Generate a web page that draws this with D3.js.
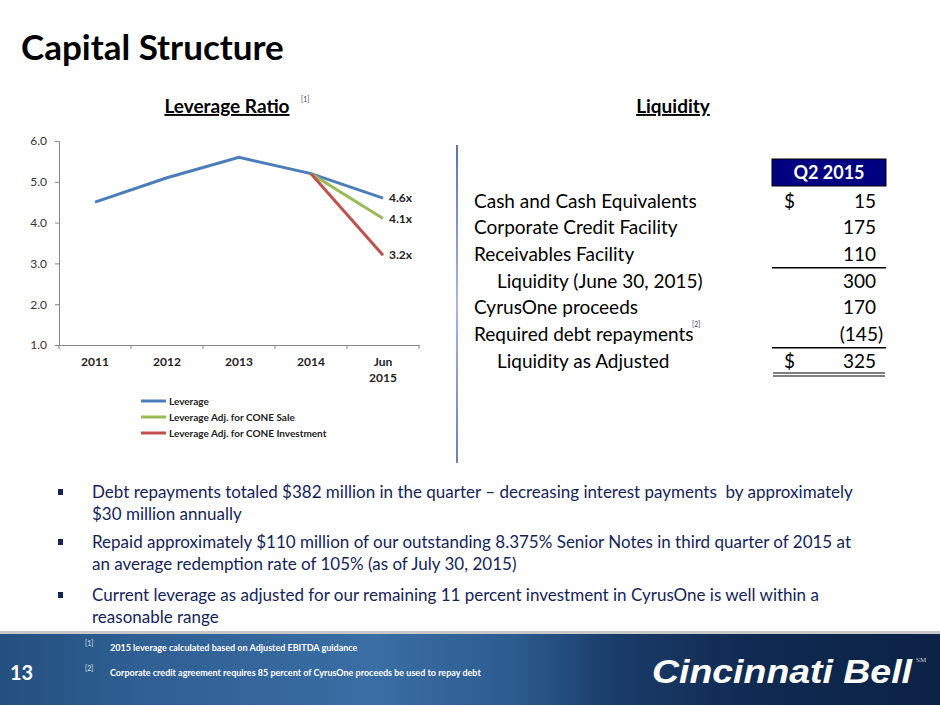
<!DOCTYPE html>
<html>
<head>
<meta charset="utf-8">
<script src="https://cdn.jsdelivr.net/npm/d3@7"></script>
<style>
  body { margin: 0; background: #fff; }
  svg { display: block; }
</style>
</head>
<body>
<svg id="slide" width="940" height="705"></svg>
<script>
// ---- data ----
const categories = ["2011", "2012", "2013", "2014", "Jun 2015"];
const leverage = [4.5, 5.1, 5.6, 5.2, 4.6];
const coneSale = [null, null, null, 5.2, 4.1];
const coneInvestment = [null, null, null, 5.2, 3.2];
const yTicks = [1, 2, 3, 4, 5, 6];
const seriesNames = ["Leverage", "Leverage Adj. for CONE Sale", "Leverage Adj. for CONE Investment"];
const seriesColors = ["#4a7ebb", "#9bbb59", "#c0504d"];

const rowLabels = ["Cash and Cash Equivalents", "Corporate Credit Facility", "Receivables Facility",
  "Liquidity (June 30, 2015)", "CyrusOne proceeds", "Required debt repayments", "Liquidity as Adjusted"];
const rowValues = [15, 175, 110, 300, 170, -145, 325];
const rowDollar = [true, false, false, false, false, false, true];
const rowIndent = [false, false, false, true, false, false, true];

const bullets = [
  ["Debt repayments totaled $382 million in the quarter \u2013 decreasing interest payments  by approximately",
   "$30 million annually"],
  ["Repaid approximately $110 million of our outstanding 8.375% Senior Notes in third quarter of 2015 at",
   "an average redemption rate of 105% (as of July 30, 2015)"],
  ["Current leverage as adjusted for our remaining 11 percent investment in CyrusOne is well within a",
   "reasonable range"]
];
const footnotes = ["2015 leverage calculated based on Adjusted EBITDA guidance",
  "Corporate credit agreement requires 85 percent of CyrusOne proceeds be used to repay debt"];

const svg = d3.select("#slide");
const FONT = "Lato, 'Open Sans', sans-serif";

/* ---------------- title ---------------- */
svg.append("text")
  .attr("x", 21).attr("y", 60)
  .attr("font-family", FONT).attr("font-weight", "bold").attr("font-size", 35)
  .attr("fill", "#000")
  .text("Capital Structure");

/* ---------------- leverage chart ---------------- */
const chart = svg.append("g");

const x = d3.scaleBand().domain(categories).range([59, 419]);
const y = d3.scaleLinear().domain([1, 6]).range([345, 141]);
const cx = c => x(c) + x.bandwidth() / 2;

chart.append("text")
  .attr("x", 227).attr("y", 113).attr("text-anchor", "middle")
  .attr("font-family", FONT).attr("font-weight", "bold").attr("font-size", 19)
  .style("text-decoration", "underline")
  .text("Leverage Ratio");
chart.append("text")
  .attr("x", 301).attr("y", 102)
  .attr("font-family", FONT).attr("font-size", 7).attr("fill", "#444")
  .text("[1]");

const yAxis = chart.append("g")
  .attr("transform", "translate(59,0)")
  .call(d3.axisLeft(y).tickValues(yTicks).tickFormat(d3.format(".1f")).tickSize(4).tickPadding(8));
yAxis.selectAll("path, line").attr("stroke", "#868686");
yAxis.selectAll("text").attr("font-family", FONT).attr("font-size", 12).attr("fill", "#333");

const xAxis = chart.append("g")
  .attr("transform", "translate(0,345)")
  .call(d3.axisBottom(x).tickSize(0).tickPadding(10));
xAxis.select("path").attr("stroke", "#868686");
xAxis.selectAll("text").remove();
// tick marks on band boundaries
xAxis.selectAll("line.edge")
  .data(categories.map(c => x(c)).concat([x.range()[1]]))
  .enter().append("line")
  .attr("class", "edge")
  .attr("x1", d => d).attr("x2", d => d)
  .attr("y1", 0).attr("y2", 4)
  .attr("stroke", "#868686");
xAxis.selectAll("text.cat")
  .data(categories)
  .enter().append("text")
  .attr("class", "cat")
  .attr("x", d => cx(d))
  .attr("y", 21)
  .attr("text-anchor", "middle")
  .attr("font-family", FONT).attr("font-weight", "bold").attr("font-size", 12)
  .attr("fill", "#222")
  .each(function (d) {
    const parts = d.split(" ");
    d3.select(this).selectAll("tspan")
      .data(parts).enter().append("tspan")
      .attr("x", cx(d))
      .attr("dy", (p, i) => i === 0 ? 0 : 16)
      .text(p => p);
  });

const line = d3.line()
  .defined(d => d.v !== null)
  .x(d => cx(d.c))
  .y(d => y(d.v));

[leverage, coneSale, coneInvestment].forEach((series, i) => {
  chart.append("path")
    .datum(series.map((v, j) => ({ c: categories[j], v: v })))
    .attr("fill", "none")
    .attr("stroke", seriesColors[i])
    .attr("stroke-width", 3)
    .attr("d", line);
});

// end labels
const lastCat = categories[categories.length - 1];
[leverage, coneSale, coneInvestment].forEach(series => {
  const v = series[series.length - 1];
  chart.append("text")
    .attr("x", cx(lastCat) + 6)
    .attr("y", y(v))
    .attr("dy", "0.35em")
    .attr("font-family", FONT).attr("font-weight", "bold").attr("font-size", 12)
    .attr("fill", "#222")
    .text(d3.format(".1f")(v) + "x");
});

// legend
const legend = chart.append("g").attr("transform", "translate(141,401)");
seriesNames.forEach((name, i) => {
  const g = legend.append("g").attr("transform", `translate(0,${i * 16})`);
  g.append("line").attr("x1", 0).attr("x2", 25)
    .attr("stroke", seriesColors[i]).attr("stroke-width", 3);
  g.append("text").attr("x", 28).attr("dy", "0.35em")
    .attr("font-family", FONT).attr("font-weight", "bold").attr("font-size", 10)
    .attr("fill", "#222")
    .text(name);
});

/* ---------------- divider ---------------- */
const defs = svg.append("defs");
const divGrad = defs.append("linearGradient").attr("id", "divGrad")
  .attr("x1", 0).attr("y1", 0).attr("x2", 0).attr("y2", 1);
divGrad.append("stop").attr("offset", "0%").attr("stop-color", "#5d73b0");
divGrad.append("stop").attr("offset", "50%").attr("stop-color", "#a9b7da");
divGrad.append("stop").attr("offset", "100%").attr("stop-color", "#6b7fb8");
svg.append("rect")
  .attr("x", 456).attr("y", 145).attr("width", 2).attr("height", 318)
  .attr("fill", "url(#divGrad)");

/* ---------------- liquidity table ---------------- */
const table = svg.append("g");
table.append("text")
  .attr("x", 673).attr("y", 113).attr("text-anchor", "middle")
  .attr("font-family", FONT).attr("font-weight", "bold").attr("font-size", 19)
  .style("text-decoration", "underline")
  .text("Liquidity");

table.append("rect")
  .attr("x", 772).attr("y", 159).attr("width", 114).attr("height", 27)
  .attr("fill", "#000080").attr("stroke", "#000").attr("stroke-width", 1);
table.append("text")
  .attr("x", 829).attr("y", 179).attr("text-anchor", "middle")
  .attr("font-family", FONT).attr("font-weight", "bold").attr("font-size", 18)
  .attr("fill", "#fff")
  .text("Q2 2015");

const rowY = d3.scalePoint().domain(d3.range(rowLabels.length)).range([201, 361]);

rowLabels.forEach((label, i) => {
  const yy = rowY(i);
  table.append("text")
    .attr("x", rowIndent[i] ? 497 : 474)
    .attr("y", yy).attr("dy", "0.35em")
    .attr("font-family", FONT).attr("font-size", 19).attr("fill", "#000")
    .text(label);
  if (label === "Required debt repayments") {
    table.append("text")
      .attr("x", 692).attr("y", yy - 7)
      .attr("font-family", FONT).attr("font-size", 7).attr("fill", "#444")
      .text("[2]");
  }
  const v = rowValues[i];
  table.append("text")
    .attr("x", v < 0 ? 883 : 876)
    .attr("y", yy).attr("dy", "0.35em")
    .attr("text-anchor", "end")
    .attr("font-family", FONT).attr("font-size", 19).attr("fill", "#000")
    .text(v < 0 ? `(${-v})` : String(v));
  if (rowDollar[i]) {
    table.append("text")
      .attr("x", 784).attr("y", yy).attr("dy", "0.35em")
      .attr("font-family", FONT).attr("font-size", 19).attr("fill", "#000")
      .text("$");
  }
});

// rules under the subtotal rows
const ruleAt = i => (rowY(i) + rowY(i + 1)) / 2;
table.append("line").attr("x1", 772).attr("x2", 886)
  .attr("y1", ruleAt(2)).attr("y2", ruleAt(2)).attr("stroke", "#000").attr("stroke-width", 1.5);
table.append("line").attr("x1", 772).attr("x2", 886)
  .attr("y1", ruleAt(5)).attr("y2", ruleAt(5)).attr("stroke", "#000").attr("stroke-width", 1.5);
[12, 15].forEach(off => {
  table.append("line").attr("x1", 773).attr("x2", 885)
    .attr("y1", rowY(6) + off).attr("y2", rowY(6) + off)
    .attr("stroke", "#000").attr("stroke-width", 1.2);
});

/* ---------------- bullets ---------------- */
const bulletTop = [492, 542, 595];
bullets.forEach((lines, i) => {
  svg.append("rect")
    .attr("x", 58).attr("y", bulletTop[i] - 3).attr("width", 5).attr("height", 6)
    .attr("fill", "#14245a");
  lines.forEach((ln, j) => {
    svg.append("text")
      .attr("x", 92).attr("y", bulletTop[i] + j * 22).attr("dy", "0.35em")
      .attr("font-family", FONT).attr("font-size", 17).attr("fill", "#14245a")
      .style("white-space", "pre")
      .text(ln);
  });
});

/* ---------------- footer ---------------- */
const footGrad = defs.append("linearGradient").attr("id", "footGrad")
  .attr("x1", 0).attr("y1", 0).attr("x2", 1).attr("y2", 0);
[["0%", "#24507f"], ["15%", "#2f5f93"], ["40%", "#3a6ea4"], ["55%", "#2c5b8e"],
 ["65%", "#1b3d6a"], ["80%", "#102a52"], ["100%", "#0c2246"]].forEach(s => {
  footGrad.append("stop").attr("offset", s[0]).attr("stop-color", s[1]);
});
svg.append("rect").attr("x", 0).attr("y", 631).attr("width", 940).attr("height", 3).attr("fill", "#c8c8c8");
svg.append("rect").attr("x", 0).attr("y", 634).attr("width", 940).attr("height", 71).attr("fill", "url(#footGrad)");

svg.append("text")
  .attr("x", 10).attr("y", 680)
  .attr("font-family", FONT).attr("font-weight", "bold").attr("font-size", 20)
  .attr("fill", "#fff")
  .text("13");

const footY = [648, 673];
footnotes.forEach((fn, i) => {
  svg.append("text")
    .attr("x", 85).attr("y", footY[i] - 2)
    .attr("font-family", FONT).attr("font-size", 7).attr("fill", "#d8e0ee")
    .text(`[${i + 1}]`);
  svg.append("text")
    .attr("x", 110).attr("y", footY[i]).attr("dy", "0.35em")
    .attr("font-family", "'Liberation Sans Narrow', " + FONT)
    .attr("font-weight", "bold").attr("font-size", 9)
    .attr("fill", "#fff")
    .text(fn);
});

svg.append("text")
  .attr("x", 652).attr("y", 683)
  .attr("font-family", "'Liberation Sans', Arial, sans-serif")
  .attr("font-weight", "bold").attr("font-style", "italic").attr("font-size", 33)
  .attr("fill", "#fff")
  .attr("textLength", 260).attr("lengthAdjust", "spacingAndGlyphs")
  .text("Cincinnati Bell");
svg.append("text")
  .attr("x", 916).attr("y", 662)
  .attr("font-family", "'Liberation Serif', serif").attr("font-size", 7)
  .attr("fill", "#ccd")
  .text("SM");
</script>
</body>
</html>
